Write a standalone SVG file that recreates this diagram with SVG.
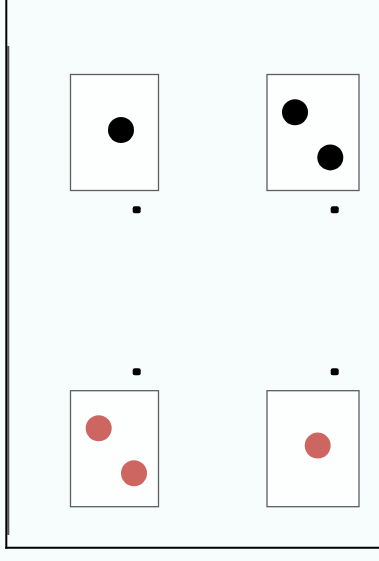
<svg xmlns="http://www.w3.org/2000/svg" width="379" height="561" viewBox="0 0 379 561">
<style>
.box{fill:#fdffff;stroke:#5e5e5e;stroke-width:1.3}
.blk{fill:#000}
.red{fill:#cd6660}
.dot{fill:#000}
</style>
<rect x="0" y="0" width="379" height="561" fill="#f7fcfd"/>
<g id="frame">
<line x1="8.3" y1="46" x2="8.3" y2="535" stroke="#555" stroke-width="2"/>
<line x1="6.3" y1="0" x2="6.3" y2="548.7" stroke="#000" stroke-width="2"/>
<line x1="5.3" y1="547.7" x2="379" y2="547.7" stroke="#000" stroke-width="2"/>
</g>
<g id="connectors">
<rect class="dot" x="132.7" y="206.2" width="8" height="7" rx="2"/>
<rect class="dot" x="330.7" y="206.2" width="8" height="7" rx="2"/>
<rect class="dot" x="132.7" y="368.2" width="8" height="7" rx="2"/>
<rect class="dot" x="330.7" y="368.2" width="8" height="7" rx="2"/>
</g>
<g id="node1">
<rect class="box" x="70.5" y="74.5" width="88" height="116"/>
<circle class="blk" cx="121" cy="130" r="13"/>
</g>
<g id="node2">
<rect class="box" x="267" y="74.5" width="92" height="116"/>
<circle class="blk" cx="295" cy="112.3" r="13"/>
<circle class="blk" cx="330.3" cy="157.4" r="13"/>
</g>
<g id="node3">
<rect class="box" x="70.5" y="390.7" width="88" height="116"/>
<circle class="red" cx="98.7" cy="428.3" r="13"/>
<circle class="red" cx="134" cy="473.3" r="13"/>
</g>
<g id="node4">
<rect class="box" x="267" y="390.7" width="92" height="116"/>
<circle class="red" cx="317.7" cy="445.6" r="13"/>
</g>
</svg>
